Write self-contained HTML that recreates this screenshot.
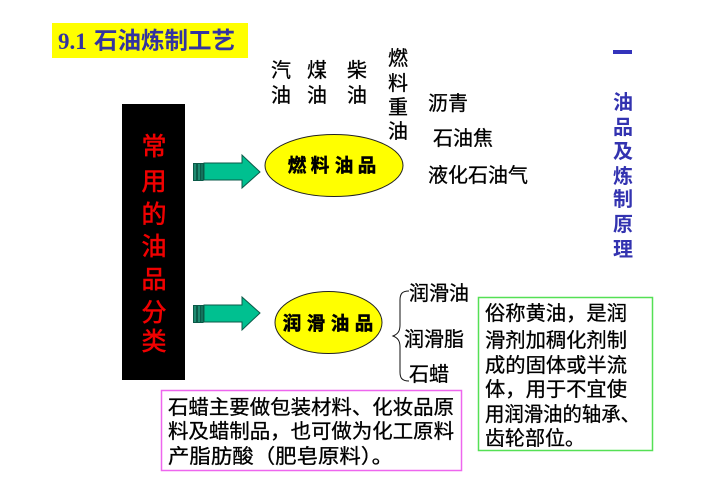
<!DOCTYPE html>
<html><head><meta charset="utf-8">
<style>
html,body{margin:0;padding:0;background:#fff;width:713px;height:504px;overflow:hidden}
svg{display:block}
text{font-family:"Liberation Sans","Noto Sans CJK SC",sans-serif}
.k{font-size:20px;fill:#000;stroke:#000;stroke-width:.3}
.e{font-size:18.500px;font-weight:700;fill:#000;stroke:#000;stroke-width:.5}
.b{font-size:20px;font-weight:700;fill:#3333b0}
.r{font-size:25px;fill:#f00000;stroke:#f00000;stroke-width:.6}
</style></head><body>
<svg width="713" height="504" viewBox="0 0 713 504" xmlns="http://www.w3.org/2000/svg">
<rect width="713" height="504" fill="#fff"/>
<rect x="52" y="23" width="196" height="35" fill="#ffff00"/>
<text x="58" y="49" style="font-family:'Liberation Serif',serif;font-size:23px;font-weight:700" fill="#3333a0">9.1</text>
<text x="94" y="48.500" style="font-family:'Noto Sans CJK SC',sans-serif;font-size:23.500px;font-weight:700" fill="#3333a0">石油炼制工艺</text>

<rect x="122" y="104" width="63" height="276" fill="#000"/>
<g text-anchor="middle">
<text class="r" x="154" y="155">常</text>
<text class="r" x="154" y="190">用</text>
<text class="r" x="154" y="223">的</text>
<text class="r" x="154" y="255">油</text>
<text class="r" x="154" y="288">品</text>
<text class="r" x="154" y="321">分</text>
<text class="r" x="154" y="350">类</text>
</g>

<g stroke="#0b5a48" stroke-width="1" fill="#00c090">
<path d="M204 163H242V155L260 172L242 188V180H204Z"/>
<rect x="193.500" y="163.500" width="3" height="17" fill="#1d8a70"/>
<rect x="197.500" y="163.500" width="3" height="17" fill="#1d8a70"/>
<rect x="201" y="163.500" width="2" height="17" fill="#1d8a70"/>
<path d="M204 305H242V297L260 313L242 330V322H204Z"/>
<rect x="193.500" y="305.500" width="3" height="17" fill="#1d8a70"/>
<rect x="197.500" y="305.500" width="3" height="17" fill="#1d8a70"/>
<rect x="201" y="305.500" width="2" height="17" fill="#1d8a70"/>
</g>

<ellipse cx="334" cy="165.500" rx="69" ry="31" fill="#ffff00" stroke="#222" stroke-width="1"/>
<ellipse cx="328.500" cy="322.500" rx="53.500" ry="31" fill="#ffff00" stroke="#222" stroke-width="1"/>
<g text-anchor="middle">
<text class="e" x="297" y="172">燃</text><text class="e" x="320" y="172">料</text><text class="e" x="344" y="172">油</text><text class="e" x="367" y="172">品</text>
<text class="e" x="292" y="330">润</text><text class="e" x="316" y="330">滑</text><text class="e" x="340" y="330">油</text><text class="e" x="364" y="330">品</text>
</g>

<g text-anchor="middle">
<text class="k" x="281" y="77">汽</text><text class="k" x="281" y="102">油</text>
<text class="k" x="317" y="77">煤</text><text class="k" x="317" y="102">油</text>
<text class="k" x="357" y="77">柴</text><text class="k" x="357" y="102">油</text>
<text class="k" x="398" y="65">燃</text><text class="k" x="398" y="90">料</text><text class="k" x="398" y="114">重</text><text class="k" x="398" y="138">油</text>
</g>
<text class="k" x="428" y="110">沥青</text>
<text class="k" x="433" y="145">石油焦</text>
<text class="k" x="428" y="182">液化石油气</text>

<path d="M409 291C402 291 400 294 400 300V325C400 331 398 334 393 336C398 338 400 341 400 347V372C400 378 402 381 409 381" fill="none" stroke="#111" stroke-width="1"/>
<text class="k" x="409" y="300">润滑油</text>
<text class="k" x="404" y="346">润滑脂</text>
<text class="k" x="409" y="381">石蜡</text>

<rect x="161.500" y="390.500" width="300" height="80" fill="#fff" stroke="#ee66ee" stroke-width="1.500"/>
<text class="k" x="168" y="414" textLength="286" lengthAdjust="spacingAndGlyphs">石蜡主要做包装材料、化妆品原</text>
<text class="k" x="168" y="438" textLength="286" lengthAdjust="spacingAndGlyphs">料及蜡制品，也可做为化工原料</text>
<text class="k" x="168" y="463" textLength="225" lengthAdjust="spacingAndGlyphs">产脂肪酸（肥皂原料）。</text>

<rect x="478.500" y="297.500" width="174" height="153" fill="#fff" stroke="#55e055" stroke-width="1.500"/>
<text class="k" x="485" y="320" textLength="142" lengthAdjust="spacingAndGlyphs">俗称黄油，是润</text>
<text class="k" x="485" y="347" textLength="142" lengthAdjust="spacingAndGlyphs">滑剂加稠化剂制</text>
<text class="k" x="485" y="372" textLength="142" lengthAdjust="spacingAndGlyphs">成的固体或半流</text>
<text class="k" x="485" y="396" textLength="142" lengthAdjust="spacingAndGlyphs">体，用于不宜使</text>
<text class="k" x="485" y="421" textLength="155" lengthAdjust="spacingAndGlyphs">用润滑油的轴承、</text>
<text class="k" x="485" y="445" textLength="100" lengthAdjust="spacingAndGlyphs">齿轮部位。</text>

<rect x="613" y="50" width="19" height="4" fill="#3333bb"/>
<g text-anchor="middle">
<text class="b" x="623" y="109">油</text>
<text class="b" x="623" y="134">品</text>
<text class="b" x="623" y="158">及</text>
<text class="b" x="623" y="183">炼</text>
<text class="b" x="623" y="206">制</text>
<text class="b" x="623" y="231">原</text>
<text class="b" x="623" y="256">理</text>
</g>
</svg>
</body></html>
